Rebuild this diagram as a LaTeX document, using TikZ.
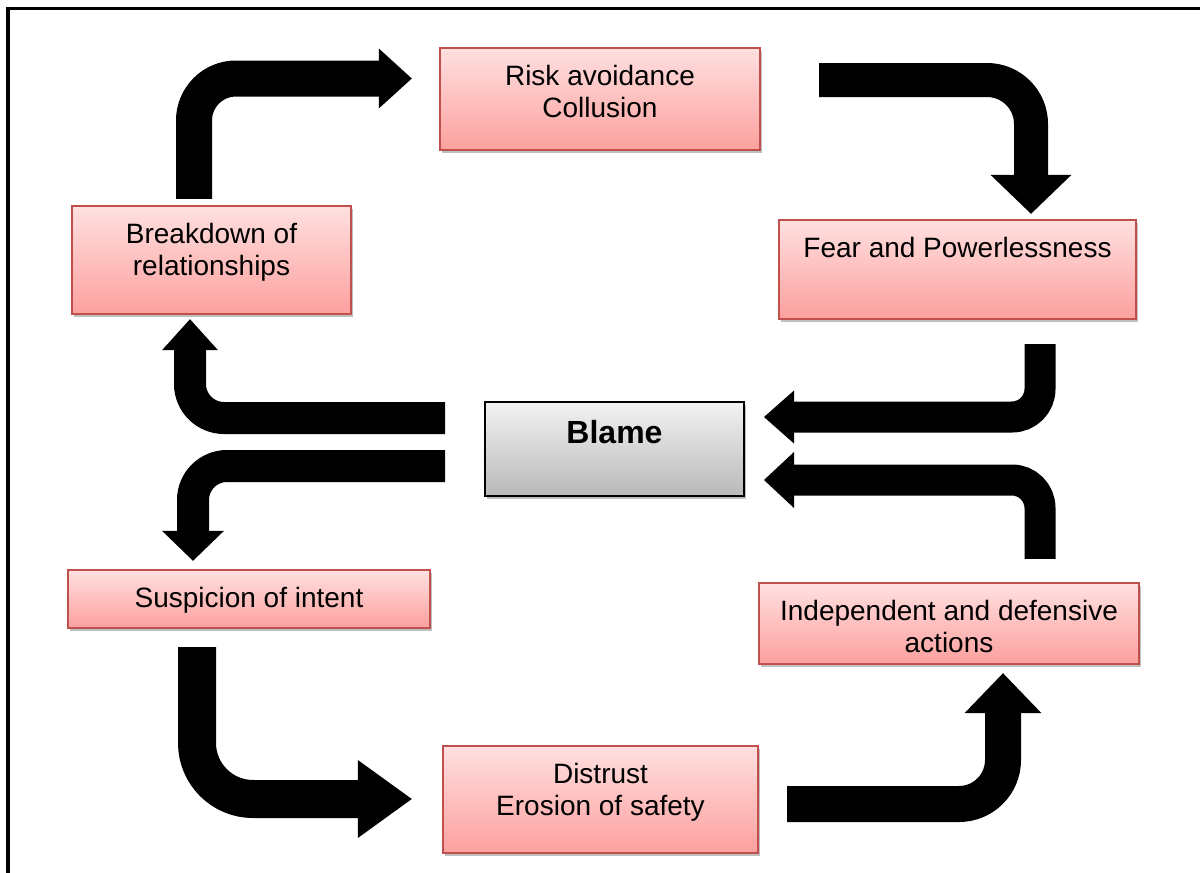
\documentclass[tikz,border=0pt]{standalone}
\usepackage{fontspec}
\setmainfont{Liberation Sans}
\usepackage{tikz}
\usetikzlibrary{arrows.meta,shadows}

\definecolor{boxred}{RGB}{192,80,77}
\definecolor{pinktop}{RGB}{255,224,224}
\definecolor{pinkbot}{RGB}{252,160,158}
\definecolor{greytop}{RGB}{242,242,242}
\definecolor{greybot}{RGB}{185,185,185}

\newcommand{\celltext}[3]{\parbox[c][#2][t]{#1}{\centering\rule{0pt}{18.5pt}#3}}

\begin{document}
\begin{tikzpicture}[x=0.5pt, y=-0.5pt,
cyclebox/.style={rectangle, draw=boxred, line width=1.2pt, top color=pinktop, bottom color=pinkbot, inner sep=0pt, font=\fontsize{14}{16}\selectfont, drop shadow={shadow xshift=0.8pt, shadow yshift=-1.6pt, fill=black, opacity=0.25}},
blamebox/.style={cyclebox, draw=black, line width=1pt, top color=greytop, bottom color=greybot, font=\fontsize{16}{18}\selectfont\bfseries},
flow/.style n args={4}{line width=#1, rounded corners=#2, -{Triangle[length=#3, width=#4, line width=0pt]}},
]
\useasboundingbox (0,0) rectangle (1200,873);
\draw[line width=1.75pt] (8,880) -- (8,8.5) -- (1205,8.5);

%Nodes
\node[cyclebox]  (risk)        at (600,99)    {\celltext{160pt}{51pt}{Risk avoidance\\Collusion}};
\node[cyclebox]  (fear)        at (957.5,269.5) {\celltext{178.5pt}{49.5pt}{Fear and Powerlessness}};
\node[cyclebox]  (breakdown)   at (211.5,260) {\celltext{139.5pt}{54pt}{Breakdown of\\relationships}};
\node[blamebox]  (blame)       at (614.5,449) {\celltext{129.5pt}{47pt}{\rule{0pt}{20.75pt}Blame}};
\node[cyclebox]  (suspicion)   at (249,599)   {\celltext{181pt}{29pt}{Suspicion of intent}};
\node[cyclebox]  (independent) at (949,623.5) {\celltext{190pt}{40.5pt}{Independent and defensive\\actions}};
\node[cyclebox]  (distrust)    at (600.5,799.5) {\celltext{157.5pt}{53.5pt}{Distrust\\Erosion of safety}};

%Arrows
\draw[flow={18pt}{21pt}{16.5pt}{30pt}]   ([shift={(-17.5,-6)}]breakdown.north) |- ([shift={(-27,-20.5)}]risk.west);
\draw[flow={17pt}{22pt}{19.5pt}{40.5pt}] ([shift={(58,-19)}]risk.east) -| ([shift={(73.5,-5)}]fear.north);
\draw[flow={15.5pt}{14pt}{15pt}{26.5pt}] ([shift={(82.5,24)}]fear.south) |- ([shift={(19,-32)}]blame.east);
\draw[flow={16pt}{17pt}{15.5pt}{28pt}]   ([shift={(-39,-31)}]blame.west) -| ([shift={(-21.5,4)}]breakdown.south);
\draw[flow={16pt}{17pt}{15pt}{31pt}]     ([shift={(-39,17)}]blame.west) -| ([shift={(-56,-8)}]suspicion.north);
\draw[flow={15.5pt}{14pt}{15pt}{28pt}]   ([shift={(91,-23)}]independent.north) |- ([shift={(19,31)}]blame.east);
\draw[flow={19pt}{28pt}{27pt}{39pt}]     ([shift={(-52,18)}]suspicion.south) |- ([shift={(-30,-0.5)}]distrust.west);
\draw[flow={18pt}{22pt}{20pt}{38.5pt}]   ([shift={(28,4.5)}]distrust.east) -| ([shift={(54,8)}]independent.south);
\end{tikzpicture}
\end{document}
